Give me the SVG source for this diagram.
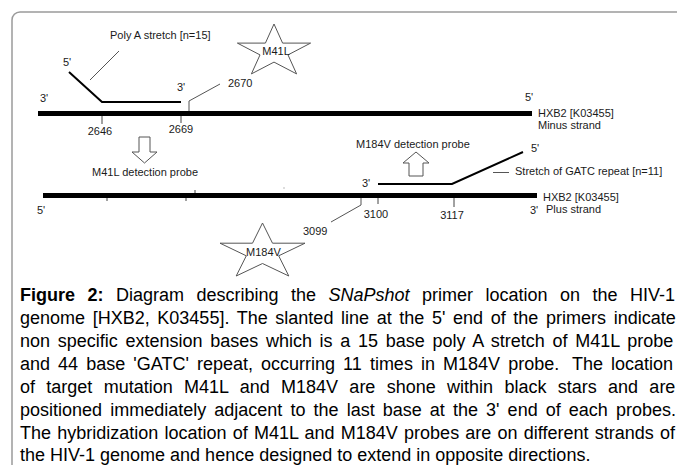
<svg xmlns="http://www.w3.org/2000/svg" width="677" height="465" viewBox="0 0 677 465">
<style>
.lbl{font-family:"Liberation Sans",Arial,sans-serif;font-size:11px;fill:#1a1a1a}
.cap{font-family:"Liberation Sans",Arial,sans-serif;font-size:18px;fill:#000}
.bar{fill:#000}
.probe{fill:none;stroke:#000;stroke-width:2}
.lead{fill:none;stroke:#555;stroke-width:1}
.tick{stroke:#444;stroke-width:1}
.star{fill:#fff;stroke:#555;stroke-width:1}
.arr{fill:#fff;stroke:#555;stroke-width:1}
</style>
<rect x="0" y="0" width="677" height="465" fill="#fff"/>
<rect x="12" y="12" width="700" height="500" rx="8" ry="8" fill="none" stroke="#9a9a9a" stroke-width="1.5"/>

<g id="strand-minus">
<rect class="bar" x="38" y="111" width="494" height="5"/>
<text class="lbl" x="40" y="102">3'</text>
<text class="lbl" x="525" y="101">5'</text>
<text class="lbl" x="538" y="117">HXB2 [K03455]</text>
<text class="lbl" x="538" y="129">Minus strand</text>
</g>

<g id="strand-plus">
<rect class="bar" x="43" y="193" width="494" height="5"/>
<text class="lbl" x="37" y="214">5'</text>
<text class="lbl" x="543" y="201">HXB2 [K03455]</text>
<text class="lbl" x="530" y="214">3'</text>
<text class="lbl" x="546" y="213">Plus strand</text>
</g>

<g id="probe-m41l">
<polyline class="probe" points="69,72 102,102 181,102"/>
<text class="lbl" x="63" y="66">5'</text>
<text class="lbl" x="177" y="91">3'</text>
<text class="lbl" x="110" y="39">Poly A stretch [n=15]</text>
</g>

<g id="probe-m184v">
<polyline class="probe" points="378,184 452,184 523,152"/>
<text class="lbl" x="362" y="187">3'</text>
<text class="lbl" x="531" y="152">5'</text>
<text class="lbl" x="515" y="175">Stretch of GATC repeat [n=11]</text>
</g>

<g id="star-m41l">
<polygon class="star" points="274,24 282.6,43.1 310.6,43.1 288,54.9 296.6,73.9 274,62.1 251.4,73.9 260,54.9 237.4,43.1 265.4,43.1"/>
<text class="lbl" x="276" y="55" text-anchor="middle">M41L</text>
</g>

<g id="star-m184v">
<polygon class="star" points="262.5,223 272.5,243.2 305,243.2 278.7,255.8 288.8,276 262.5,263.5 236.2,276 246.3,255.8 220,243.2 252.5,243.2"/>
<text class="lbl" x="263.5" y="256" text-anchor="middle">M184V</text>
</g>

<g id="arrow-m41l">
<polygon class="arr" points="139,137 150,137 150,152 157,152 144.5,163 132,152 139,152"/>
<text class="lbl" x="92" y="176">M41L detection probe</text>
</g>

<g id="arrow-m184v">
<polygon class="arr" points="416,152 429,163 423,163 423,176 409,176 409,163 403,163"/>
<text class="lbl" x="356" y="148">M184V detection probe</text>
</g>

<g id="connectors">
<line class="lead" x1="119" y1="51" x2="90" y2="80"/>
<polyline class="lead" points="189,111 189,101 220,84"/>
<polyline class="lead" points="361,198 361,205 331,222"/>
<line class="lead" x1="493" y1="172.5" x2="509" y2="172.5"/>
<line class="tick" x1="102" y1="116" x2="102" y2="124"/>
<line class="tick" x1="181" y1="116" x2="181" y2="123"/>
<line class="tick" x1="378" y1="198" x2="378" y2="204"/>
<line class="tick" x1="454" y1="198" x2="454" y2="207"/>
<line class="tick" x1="107" y1="198" x2="107" y2="201"/>
<line class="tick" x1="186" y1="198" x2="186" y2="201"/>
<line class="tick" x1="195" y1="190" x2="195" y2="193"/>
<rect x="283.5" y="187.5" width="1" height="1" fill="#777"/>
</g>

<g id="position-labels">
<text class="lbl" x="100" y="135" text-anchor="middle">2646</text>
<text class="lbl" x="181" y="133" text-anchor="middle">2669</text>
<text class="lbl" x="228" y="87">2670</text>
<text class="lbl" x="303" y="235">3099</text>
<text class="lbl" x="376" y="218" text-anchor="middle">3100</text>
<text class="lbl" x="452" y="219" text-anchor="middle">3117</text>
</g>

<g id="caption">
<text class="cap" x="20" y="300.5" word-spacing="7.48"><tspan font-weight="bold">Figure 2:</tspan> Diagram describing the <tspan font-style="italic">SNaPshot</tspan> primer location on the HIV-1</text>
<text class="cap" x="20" y="323.5" word-spacing="2.63">genome [HXB2, K03455]. The slanted line at the 5' end of the primers indicate</text>
<text class="cap" x="20" y="346.5" word-spacing="2.69">non specific extension bases which is a 15 base poly A stretch of M41L probe</text>
<text class="cap" x="20" y="369.5" word-spacing="3.07">and 44 base 'GATC' repeat, occurring 11 times in M184V probe. <tspan dx="5">The location</tspan></text>
<text class="cap" x="20" y="392.5" word-spacing="6.31">of target mutation M41L and M184V are shone within black stars and are</text>
<text class="cap" x="20" y="415.5" word-spacing="3.09">positioned immediately adjacent to the last base at the 3' end of each probes.</text>
<text class="cap" x="20" y="438.5" word-spacing="1.22">The hybridization location of M41L and M184V probes are on different strands of</text>
<text class="cap" x="20" y="461">the HIV-1 genome and hence designed to extend in opposite directions.</text>
</g>
</svg>
